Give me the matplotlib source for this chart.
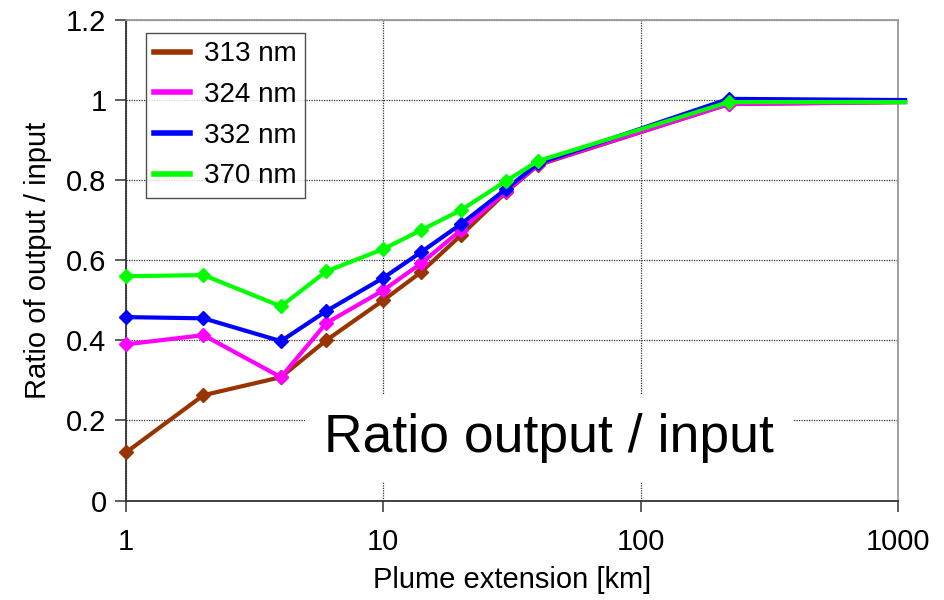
import numpy as np
import matplotlib
matplotlib.use("Agg")
import matplotlib.pyplot as plt

plt.rcParams['font.family'] = ['Liberation Sans', 'DejaVu Sans']

# plume extension [km]; the last point sits just past the 1000 km edge
extension = [1, 2, 4, 6, 10, 14, 20, 30, 40, 220, 1065]

ratio_313 = [0.12, 0.263, 0.308, 0.40, 0.50, 0.57, 0.662, 0.77, 0.838, 0.99, 0.995]
ratio_324 = [0.39, 0.413, 0.308, 0.443, 0.525, 0.592, 0.675, 0.772, 0.84, 0.99, 0.995]
ratio_332 = [0.458, 0.455, 0.398, 0.473, 0.556, 0.62, 0.69, 0.778, 0.842, 1.003, 1.0]
ratio_370 = [0.56, 0.563, 0.485, 0.572, 0.628, 0.675, 0.725, 0.798, 0.848, 0.995, 0.995]

series = [
    ("313 nm", ratio_313, "#993300"),
    ("324 nm", ratio_324, "#FF00FF"),
    ("332 nm", ratio_332, "#0000FF"),
    ("370 nm", ratio_370, "#00FF00"),
]

fig = plt.figure(figsize=(9.45, 6.0), dpi=100)
ax = fig.add_axes([0.1333, 0.1658, 0.817, 0.8009])

for name, vals, col in series:
    ax.plot(extension, vals, color=col, lw=3, marker='D', ms=7.5,
            markevery=list(range(len(extension) - 1)), label=name,
            clip_on=False, zorder=3)

ax.set_xscale('log')
ax.set_xlim(1, 1000)
ax.set_ylim(0, 1.2)
ax.set_xticks([1, 10, 100, 1000])
ax.set_xticklabels(['1', '10', '100', '1000'])
ax.minorticks_off()
ax.set_yticks([0, 0.2, 0.4, 0.6, 0.8, 1.0, 1.2])
ax.set_yticklabels(['0', '0.2', '0.4', '0.6', '0.8', '1', '1.2'])

ax.grid(True, which='major', color='#333333', ls=(0, (1, 1)), lw=0.9)
ax.set_axisbelow(True)

for side in ['left', 'bottom']:
    ax.spines[side].set_color('#333333')
    ax.spines[side].set_linewidth(1.3)
for side in ['top', 'right']:
    ax.spines[side].set_color('#999999')
    ax.spines[side].set_linewidth(1.3)

ax.tick_params(axis='both', labelsize=21, length=8, width=1.1, color='#333333', pad=6)
ax.tick_params(axis='x', pad=12)

ax.set_xlabel('Plume extension [km]', fontsize=21, labelpad=7)
ax.set_ylabel('Ratio of output / input', fontsize=21, labelpad=10)

leg = ax.legend(loc='upper left', bbox_to_anchor=(0.026, 0.973), fontsize=20,
                frameon=True, fancybox=False, edgecolor='#222222',
                handlelength=1.3, handletextpad=0.5, labelspacing=0.53,
                borderpad=0.3, borderaxespad=0)
leg.get_frame().set_linewidth(1.0)
for h in leg.get_lines():
    h.set_marker('')
    h.set_linewidth(4)

ax.text(0.548, 0.13, 'Ratio output / input', transform=ax.transAxes,
        ha='center', va='center', fontsize=38.5, zorder=2,
        bbox=dict(facecolor='white', edgecolor='none', boxstyle='square,pad=0.35'))

fig.savefig('out.png', dpi=100)
